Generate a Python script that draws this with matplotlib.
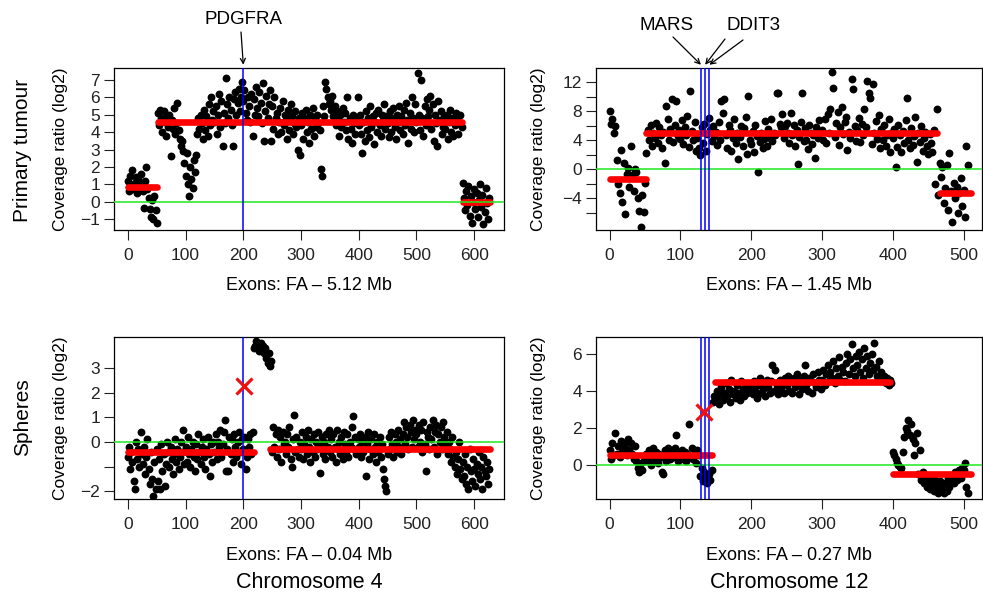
import numpy as np
import matplotlib
matplotlib.use('Agg')
import matplotlib.pyplot as plt

plt.rcParams['font.family'] = ['Liberation Sans', 'DejaVu Sans']

W, H = 983, 597
STEP = 2  # one stored point every 2 exons

# ---- chromosome 4, primary tumour (exons 0..626) ----
chr4_tumour = [
    1.2, 0.6, 1.5, 0.9, 1.8, 0.7, 1.1, 1.4, 0.5, 1.3, 0.8, 1.6, 1.0, 0.6, -0.35, 1.2, 2.0, 0.7, 0.2, -0.4, -0.9, 0.1, -1.0, 0.3, -0.5,
    -1.2, 5.1, 4.4, 5.3, 4.8, 4.0, 5.2, 4.6, 3.8, 4.9, 4.3, 5.0, 2.6, 4.7, 4.2, 5.4, 3.9, 4.5, 5.7, 4.1, 3.6, 3.2, 3.5, 2.9, 2.2,
    1.5, 2.8, 1.0, 0.35, 2.0, 1.3, 0.8, 2.4, 1.7, 2.7, 3.9, 4.8, 4.2, 5.0, 4.5, 3.6, 5.3, 4.1, 4.9, 3.8, 5.6, 4.4, 6.0, 4.7, 5.2,
    4.6, 5.5, 3.9, 5.0, 6.2, 4.3, 5.8, 3.2, 5.1, 4.5, 7.1, 5.6, 4.8, 6.0, 5.3, 4.4, 3.2, 5.9, 6.3, 5.0, 5.7, 6.5, 5.2, 6.0, 6.9,
    5.8, 6.4, 5.1, 4.7, 6.0, 5.5, 4.6, 6.2, 3.8, 5.9, 5.0, 6.6, 5.4, 4.9, 6.3, 5.7, 4.5, 6.8, 3.5, 5.2, 6.1, 4.8, 5.6, 6.4, 3.5,
    5.5, 4.2, 6.0, 4.8, 5.1, 3.9, 4.6, 5.4, 4.0, 5.8, 4.4, 5.0, 4.7, 3.6, 5.3, 4.1, 5.6, 4.9, 3.9, 4.5, 5.2, 4.3, 3.0, 4.8, 2.7,
    4.4, 5.1, 3.6, 4.8, 5.3, 4.0, 4.6, 3.4, 5.0, 4.2, 5.4, 3.8, 4.7, 4.3, 5.0, 4.5, 4.1, 1.9, 1.5, 5.5, 4.9, 6.9, 6.5, 6.0, 5.6,
    5.8, 5.3, 6.1, 4.9, 5.5, 4.4, 5.2, 4.7, 3.8, 5.0, 4.3, 5.4, 4.6, 5.1, 4.1, 6.0, 3.6, 4.8, 4.2, 3.4, 5.0, 4.5, 3.9, 4.7, 6.0,
    4.4, 5.0, 3.9, 2.8, 4.6, 3.5, 5.2, 4.1, 4.8, 3.7, 5.5, 4.3, 4.9, 3.3, 4.6, 5.1, 4.0, 5.3, 4.4, 3.8, 5.0, 4.7, 5.6, 4.2, 4.9,
    4.5, 3.7, 5.2, 4.0, 4.8, 5.4, 4.3, 3.6, 5.0, 4.6, 5.5, 4.1, 4.9, 3.9, 5.3, 4.4, 5.7, 4.7, 3.4, 5.1, 4.2, 6.0, 4.8, 4.0, 5.6,
    4.6, 7.4, 5.0, 4.1, 7.0, 4.8, 3.8, 5.5, 4.4, 5.9, 4.9, 5.3, 6.1, 4.2, 5.6, 3.5, 5.0, 4.5, 3.2, 5.8, 4.7, 5.2, 3.9, 4.3, 4.9,
    4.2, 5.0, 3.6, 4.6, 5.3, 4.0, 4.8, 3.8, 4.4, 5.1, 4.7, 3.9, 4.5, 5.0, 4.3,
    1.1, 0.2, -0.5, 0.6, -0.2, 0.9, -0.8, 0.3, -1.2, 0.0, 0.7, -0.4, 0.5, -0.9, 0.1, 1.0, -0.3, 0.4, -1.3, -0.6, 0.8, -0.1, -1.0, 0.2,
]
chr4_tumour_segs = [(0, 50, 0.87), (53, 578, 4.6), (580, 627, -0.02)]

# ---- chromosome 12, primary tumour (exons 0..506) ----
chr12_tumour = [
    8.0, 6.3, 7.0, 5.0, 6.0, 1.3, -2.0, -3.3, 2.7, -4.5, 0.9, -6.1, -0.6, 0.2, -2.4, 3.2, -0.8, -3.0, 0.1, -0.4, -4.0, -5.7, -7.9, -3.5, -5.8,
    -1.9, 2.3, 5.5, 4.0, 6.1, 3.3, 5.0, 4.4, 6.4, 3.6, 5.8, 4.7, 2.9, 5.2, 0.9, 8.7, 6.9, 4.1, 5.6, 9.7, 3.8, 6.2, 9.5, 4.6, 5.4,
    4.2, 6.8, 3.5, 5.9, 4.8, 7.4, 3.1, 10.8, 5.3, 4.0, 6.5, 2.5, 4.4, 3.0, 2.0, 5.8, 3.7, 6.3, 2.6, 4.9, 7.1, 5.5, 3.9, 6.0, 4.6,
    5.2, 3.4, 6.6, 4.1, 9.4, 7.8, 9.7, 4.8, 3.0, 6.2, 5.5, 2.6, 4.3, 6.9, 3.6, 5.0, 1.4, 4.5, 6.0, 3.2, 5.7, 7.2, 2.2, 10.1, 4.0,
    3.5, 5.3, 2.4, 6.1, 4.6, -0.3, 3.8, 5.0, 2.9, 4.2, 6.7, 3.3, 5.6, 4.4, 7.0, 3.9, 5.1, 4.7, 10.6, 10.5, 6.3, 5.8, 7.7, 4.3, 6.0,
    6.4, 5.0, 3.7, 7.8, 4.8, 6.1, 3.2, 5.4, 0.7, 4.5, 6.6, 10.6, 3.9, 5.7, 4.1, 2.8, 6.2, 5.0, 3.5, 4.7, 1.6, 5.9, 4.3, 6.8, 5.2,
    5.5, 4.0, 6.9, 3.6, 7.6, 5.1, 8.3, 13.4, 11.3, 4.5, 6.4, 7.9, 3.4, 5.8, 8.6, 4.9, 6.6, 7.3, 2.7, 5.2, 4.4, 12.5, 11.1, 6.0, 3.9,
    5.4, 7.1, 3.8, 6.3, 4.7, 8.4, 5.9, 12.2, 10.6, 9.9, 3.5, 11.8, 5.0, 6.7, 4.2, 7.5, 2.9, 5.6, 4.0, 6.2, 3.3, 4.8, 7.0, 2.4, 5.1,
    4.3, 5.6, 0.4, 3.1, 6.2, 4.8, 2.4, 5.3, 3.7, 6.8, 9.8, 4.1, 2.9, 5.7, 3.4, 4.6, 7.2, 1.1, 5.0, 3.8, 6.0, 2.6, 4.4, 5.2, 3.3,
    2.1, 4.9, 3.6, 2.4, 5.4,
    -2.0, 8.3, -3.5, 0.9, -1.0, 0.4, -4.6, -2.6, 0.6, -5.6, 2.3, -3.0, -7.2, -1.8, -4.0, -2.4, -6.0, -3.3, -1.2, -5.0, -2.8, -6.5, 3.2, 0.6,
]
chr12_tumour_segs = [(0, 51, -1.35), (52, 463, 5.0), (466, 510, -3.2)]

# ---- chromosome 4, spheres ----
chr4_spheres = [
    -0.6, -0.2, -1.1, -0.4, -0.8, -1.6, -1.9, 0.0, -0.7, -0.3, -1.0, 0.4, -0.5, -0.9, -0.2, -1.3, -0.6, 0.1, -1.1, -1.7, -0.4, -1.5, -2.2, -0.8, -1.9,
    -0.3, -1.6, -0.7, -1.9, -0.1, -1.2, -0.5, -1.8, -0.9, 0.0, -0.4, -1.0, -0.2, -0.7, -1.3, -0.5, 0.1, -0.8, -0.3, -1.1, -0.6, 0.0, -0.4, 0.5, -0.9,
    -0.2, -0.8, 0.2, -0.5, -1.0, -0.3, 0.0, -0.6, -1.2, -0.1, -0.7, 0.3, -0.4, -0.9, -0.2, 0.1, -0.6, -1.1, -0.3, 0.2, -0.5, -1.4, -0.1, -0.8, 0.0,
    -0.4, 0.3, -0.7, 0.0, -0.2, 0.5, -0.6, -0.1, 0.4, 0.9, -1.2, -0.3, -1.2, 0.2, -0.5, 0.1, -0.8, 0.3, -0.2, -0.6, 0.0, 0.4, -0.4, -0.9, 0.1,
    -0.3, 0.2, -1.1, -0.6, 0.1, -0.2, 0.3, -0.5, 0.4,
    3.8, 3.9, 4.1, 3.8, 3.9, 3.7, 4.0, 3.8, 3.9, 3.6, 3.8, 3.4, 3.2, 3.6, 3.1, 3.3,
    -0.4, 0.6, -0.2, 0.3, -0.6, 0.5, -0.3, 0.2, -0.8, 0.4, -0.1, 0.0, -0.5, 0.3, -0.2, 0.6, -0.7, -1.0, 0.1, 1.1, -0.4, 0.2, -0.3, -0.6, 0.0,
    -0.3, 0.4, -0.7, -0.1, 0.2, -0.5, 0.5, -0.2, -0.8, 0.1, -0.4, 0.3, -0.6, 0.0, -0.3, 0.4, -1.25, -0.1, 0.2, -0.5, 0.0, -0.7, 0.3, -0.2, 0.5,
    -0.4, 0.1, -0.6, 0.3, -0.2, -0.8, 0.5, -0.3, 0.0, -0.5, 0.2, -0.7, 0.4, -0.1, -0.4, 0.3, -0.6, 0.0, -0.2, 0.6, 1.05, -0.3, 0.2, -0.5, 0.1,
    -0.2, 0.3, -0.6, 0.0, -0.4, 0.2, -1.4, -0.1, 0.4, -0.7, -0.3, 0.1, -0.5, 0.3, -0.2, -0.8, 0.0, -0.4, 0.2, -0.6, -0.1, -1.1, -1.5, -1.8, -2.0,
    -0.5, 0.2, -0.3, 0.4, -0.1, -0.6, 0.3, 0.0, -0.4, 0.5, -0.2, 0.1, -0.5, 0.3, 0.8, -0.1, 0.6, 0.2, -0.3, 0.7, 0.4, -0.2, 0.9, 0.1, 0.5,
    0.3, -0.2, 0.7, 0.0, 0.5, -0.4, 0.8, -0.1, -1.2, 0.4, 0.2, -0.3, 0.6, 0.1, 0.9, -0.2, 0.4, 0.7, -0.5, 0.3, 0.0, 0.6, -0.3, 0.8, 0.2,
    -0.1, 0.4, -0.5, 0.0, -0.3, -0.8, 0.2, -0.6, -1.0, -0.4, -1.3, -0.7, 0.0, -1.1, -1.5,
    -0.8, -1.4, -0.5, -1.7, -1.0, -1.9, -0.3, -1.2, -1.6, -0.7, -1.1, -1.8, -0.9, -1.3, -0.4, -1.5, -1.0, -1.9, -0.6, -1.2, -1.4, -0.8, -1.7, -1.1,
]
chr4_spheres_segs = [(0, 218, -0.43), (246, 627, -0.3)]

# ---- chromosome 12, spheres ----
chr12_spheres = [
    0.8, 0.3, 1.2, 0.5, 1.7, 0.6, 1.0, 0.4, 1.3, 0.7, 0.9, 1.1, 0.5, 1.4, 0.8, 1.2, 0.6, 0.3, 1.0, 0.2, -0.2, -0.4, 0.1, -0.3, 0.2,
    0.3, 0.6, 0.2, 0.8, 0.0, 0.5, 0.9, 0.3, 0.7, 0.1, 0.6, 0.4, -0.4, -0.5, 0.8, 0.2, 0.9, 0.5, 0.3, 0.7, 0.4, 0.9, 1.6, 0.2, 0.6,
    0.5, 0.8, 0.3, 0.7, 0.2, 0.6, 2.2, 0.4, 0.9, 0.3, 0.6, 0.1, 0.8, 0.5,
    -0.6, -0.2, -0.9, -0.4, -0.7, -1.0, -0.5, -0.8, -0.3, 3.4, 3.7,
    3.6, 4.0, 3.3, 3.8, 4.2, 3.5, 3.9, 4.4, 3.7, 4.1, 3.4, 4.6, 3.8, 4.0, 3.6, 4.3, 3.9, 3.5, 4.5, 4.1, 3.7, 4.2, 3.9, 4.4, 4.0,
    4.2, 3.8, 4.5, 4.0, 3.6, 4.3, 4.7, 3.9, 4.1, 4.4, 3.7, 4.6, 4.2, 3.9, 4.5, 5.4, 4.0, 5.1, 4.3, 3.8, 4.6, 4.1, 4.4, 3.9, 4.7,
    4.3, 4.8, 4.0, 4.5, 3.9, 4.7, 4.2, 4.9, 4.4, 3.8, 4.6, 4.1, 4.8, 5.4, 4.3, 4.0, 4.7, 4.5, 3.9, 4.9, 4.4, 4.2, 5.0, 4.6, 4.1,
    4.6, 5.1, 4.3, 4.9, 5.4, 4.5, 5.0, 4.7, 5.6, 4.4, 5.2, 4.8, 5.8, 4.6, 5.3, 5.0, 4.5, 5.5, 6.0, 4.9, 5.7, 6.5, 5.2, 4.8, 5.9,
    5.4, 6.1, 5.0, 5.7, 4.7, 6.3, 5.2, 5.9, 4.9, 5.5, 6.0, 5.1, 6.6, 5.3, 4.8, 5.6, 4.6, 5.0, 4.5, 4.8, 4.4, 4.7, 4.3, 4.6, 4.4,
    0.7, 0.5, 0.3, 0.1, 0.0, -0.1, -0.2, 0.7, 1.5, 2.0, 1.8, 2.4, 1.6, 2.2, 1.4, 0.5, 1.2, 1.7, -0.5, 0.8, -0.8, -0.4, -1.0, -0.6, -1.2,
    -0.9, -1.3, -0.7, -1.1, -1.4, -0.8, -1.2, -1.5, -0.9, -1.3, -1.1, -1.5, -1.0, -1.4, -0.7, -1.2, -0.9, -0.6, -1.0, -0.4, -0.8, -0.5, -0.3, -0.7, -0.2,
    -0.3, 0.1, -1.2, -1.5,
]
chr12_spheres_segs = [(0, 145, 0.54), (149, 396, 4.49), (400, 511, -0.52)]

# gene positions (exon index) and the fused-gene call on the spheres
chr4_genes = [200]
chr12_genes = [129, 135, 141]
chr4_call = (201, 2.28)
chr12_call = (134, 2.85)


def fig_xy(px, py):
    return px / W, 1 - py / H


fig = plt.figure(figsize=(W / 100, H / 100), dpi=100)

panels = [
    dict(box=(114, 68, 504, 230), y=chr4_tumour, segs=chr4_tumour_segs, genes=chr4_genes,
         xlim=(-24, 651.6), ylim=(-1.63, 7.69), xticks=range(0, 601, 100),
         yticks=range(-1, 8), ylabels=[str(v).replace('-', '\u2212') for v in range(-1, 8)],
         xlabel='Exons: FA \u2013 5.12 Mb', call=None),
    dict(box=(596, 68, 982, 230), y=chr12_tumour, segs=chr12_tumour_segs, genes=chr12_genes,
         xlim=(-19.2, 526), ylim=(-8.35, 14.0), xticks=range(0, 501, 100),
         yticks=range(-6, 13, 2), ylabels=['', '\u22124', '', '0', '', '4', '', '8', '', '12'],
         xlabel='Exons: FA \u2013 1.45 Mb', call=None),
    dict(box=(114, 337, 504, 499), y=chr4_spheres, segs=chr4_spheres_segs, genes=chr4_genes,
         xlim=(-24, 651.6), ylim=(-2.32, 4.26), xticks=range(0, 601, 100),
         yticks=range(-2, 4), ylabels=['\u22122', '', '0', '1', '2', '3'],
         xlabel='Exons: FA \u2013 0.04 Mb', call=chr4_call),
    dict(box=(596, 337, 982, 499), y=chr12_spheres, segs=chr12_spheres_segs, genes=chr12_genes,
         xlim=(-19.2, 526), ylim=(-1.85, 6.9), xticks=range(0, 501, 100),
         yticks=range(0, 7, 2), ylabels=['0', '2', '4', '6'],
         xlabel='Exons: FA \u2013 0.27 Mb', call=chr12_call),
]

axes = []
for p in panels:
    l, t, r, b = p['box']
    ax = fig.add_axes([l / W, 1 - b / H, (r - l) / W, (b - t) / H])
    y = np.array(p['y'])
    x = np.arange(len(y)) * STEP
    ax.scatter(x, y, s=32, c='black', linewidths=0, zorder=3)
    for x0, x1, v in p['segs']:
        ax.plot([x0, x1], [v, v], color='#ff0000', lw=4.8, solid_capstyle='round', zorder=4)
    ax.axhline(0, color='#1ee81e', lw=1.1, zorder=5)
    for g in p['genes']:
        ax.axvline(g, color='#0000ff', lw=1.1, zorder=6)
    if p['call'] is not None:
        ax.plot(*p['call'], 'x', color='#ee1111', ms=11, mew=2.3, zorder=7)
    ax.set_xlim(*p['xlim'])
    ax.set_ylim(*p['ylim'])
    ax.set_xticks(list(p['xticks']))
    ax.set_yticks(list(p['yticks']))
    ax.set_yticklabels(p['ylabels'])
    ax.tick_params(direction='out', length=7, width=0.8, labelsize=12.5, colors='#222222')
    ax.tick_params(axis='x', pad=6)
    ax.tick_params(axis='y', pad=3)
    for s in ax.spines.values():
        s.set_linewidth(0.9)
    cx = (l + r) / 2
    fig.text(*fig_xy(cx, 286 if t < 200 else 556), p['xlabel'], ha='center', va='center', fontsize=13)
    fig.text(*fig_xy(l - 54 if l < 300 else l - 58, (t + b) / 2), 'Coverage ratio (log2)',
             rotation=90, ha='center', va='center', fontsize=12.5)
    axes.append(ax)

# row and column titles
fig.text(*fig_xy(23, 150), 'Primary tumour', rotation=90, ha='center', va='center', fontsize=15)
fig.text(*fig_xy(23, 417), 'Spheres', rotation=90, ha='center', va='center', fontsize=15)
fig.text(*fig_xy(309, 583), 'Chromosome 4', ha='center', va='center', fontsize=15.5)
fig.text(*fig_xy(789, 583), 'Chromosome 12', ha='center', va='center', fontsize=15.5)

# gene labels with arrows
arrow = dict(arrowstyle='->', lw=0.9, color='black', shrinkA=0, shrinkB=0, mutation_scale=9)
fig.text(*fig_xy(243, 19), 'PDGFRA', ha='center', va='center', fontsize=13.5)
axes[0].annotate('', xy=(chr4_genes[0], 1.02), xycoords=('data', 'axes fraction'),
                 xytext=fig_xy(241, 32), textcoords='figure fraction', arrowprops=arrow)
fig.text(*fig_xy(667, 25), 'MARS', ha='center', va='center', fontsize=13.5)
fig.text(*fig_xy(753, 25), 'DDIT3', ha='center', va='center', fontsize=13.5)
axes[1].annotate('', xy=(chr12_genes[0], 1.02), xycoords=('data', 'axes fraction'),
                 xytext=fig_xy(673, 37), textcoords='figure fraction', arrowprops=arrow)
axes[1].annotate('', xy=(chr12_genes[1], 1.02), xycoords=('data', 'axes fraction'),
                 xytext=fig_xy(725, 39), textcoords='figure fraction', arrowprops=arrow)
axes[1].annotate('', xy=(chr12_genes[2], 1.02), xycoords=('data', 'axes fraction'),
                 xytext=fig_xy(743, 40), textcoords='figure fraction', arrowprops=arrow)

fig.savefig('out.png', dpi=100)
